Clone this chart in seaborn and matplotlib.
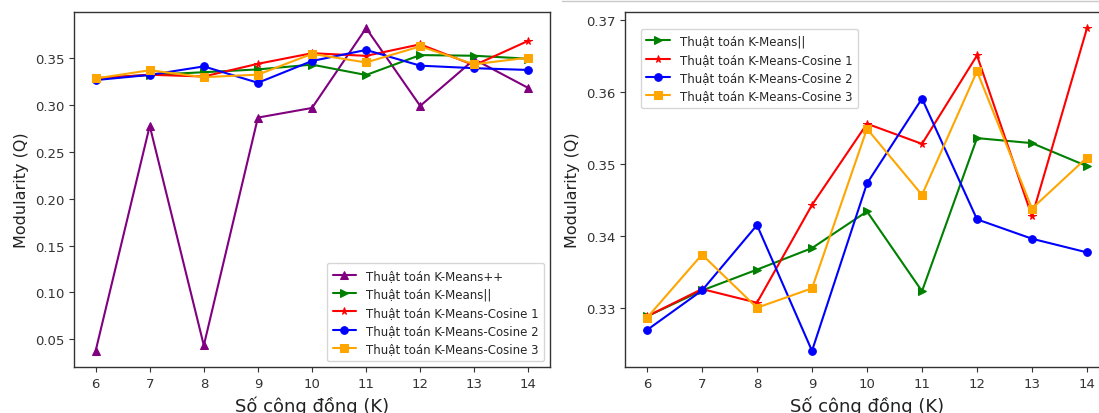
import matplotlib
matplotlib.use("Agg")
import matplotlib.pyplot as plt
from matplotlib.lines import Line2D
import seaborn as sns

sns.set_style("ticks")
plt.rcParams['font.family'] = ['DejaVu Sans']

k_values = [6, 7, 8, 9, 10, 11, 12, 13, 14]

# modularity values per algorithm
kmeans_pp = [0.0375, 0.278, 0.0433, 0.2868, 0.2971, 0.3824, 0.2993, 0.349, 0.3184]
kmeans_par = [0.3288, 0.3324, 0.3353, 0.3383, 0.3434, 0.3323, 0.3536, 0.3529, 0.3497]
cosine_1 = [0.3288, 0.3326, 0.3307, 0.3443, 0.3556, 0.3528, 0.3651, 0.3427, 0.3689]
cosine_2 = [0.3269, 0.3324, 0.3415, 0.3240, 0.3473, 0.3591, 0.3423, 0.3396, 0.3377]
cosine_3 = [0.3286, 0.3374, 0.3300, 0.3327, 0.3549, 0.3457, 0.3629, 0.3438, 0.3509]

labels = ["Thuật toán K-Means++", "Thuật toán K-Means||", "Thuật toán K-Means-Cosine 1",
          "Thuật toán K-Means-Cosine 2", "Thuật toán K-Means-Cosine 3"]
colors = ["purple", "green", "red", "blue", "orange"]
markers = ["^", ">", "*", "o", "s"]
series = [kmeans_pp, kmeans_par, cosine_1, cosine_2, cosine_3]

fig = plt.figure(figsize=(10.99, 4.14), dpi=100)
ax1 = fig.add_axes([74 / 1099, 46 / 414, 476 / 1099, 355 / 414])
ax2 = fig.add_axes([625 / 1099, 46 / 414, 484 / 1099, 355 / 414])


def draw(ax, idx):
    for i in idx:
        sns.lineplot(x=k_values, y=series[i], ax=ax, color=colors[i], marker=markers[i],
                     markersize=5.5, markeredgecolor=colors[i],
                     linewidth=1.5, label=labels[i])
    ax.set_xticks(k_values)
    ax.set_xlabel("Số cộng đồng (K)", fontsize=13, color="#222222")
    ax.set_ylabel("Modularity (Q)", fontsize=11.5, color="#222222")
    ax.tick_params(labelsize=9.5, colors="#333333")
    for s in ax.spines.values():
        s.set_color("#333333")
        s.set_linewidth(1.0)


draw(ax1, [0, 1, 2, 3, 4])
ax1.legend(loc="lower right", fontsize=8.5, borderpad=0.5, labelspacing=0.45)

draw(ax2, [1, 2, 3, 4])
ax2.legend(loc="upper left", fontsize=8.5, borderpad=0.5, labelspacing=0.45,
           bbox_to_anchor=(0.02, 0.97))
ax2.set_yticks([0.33, 0.34, 0.35, 0.36, 0.37])

# thin border of the second screenshot
fig.add_artist(Line2D([562 / 1099, 1], [1 - 2 / 414, 1 - 2 / 414], transform=fig.transFigure,
                      color="#c8c8c8", linewidth=1))

fig.savefig("out.png", dpi=100)
